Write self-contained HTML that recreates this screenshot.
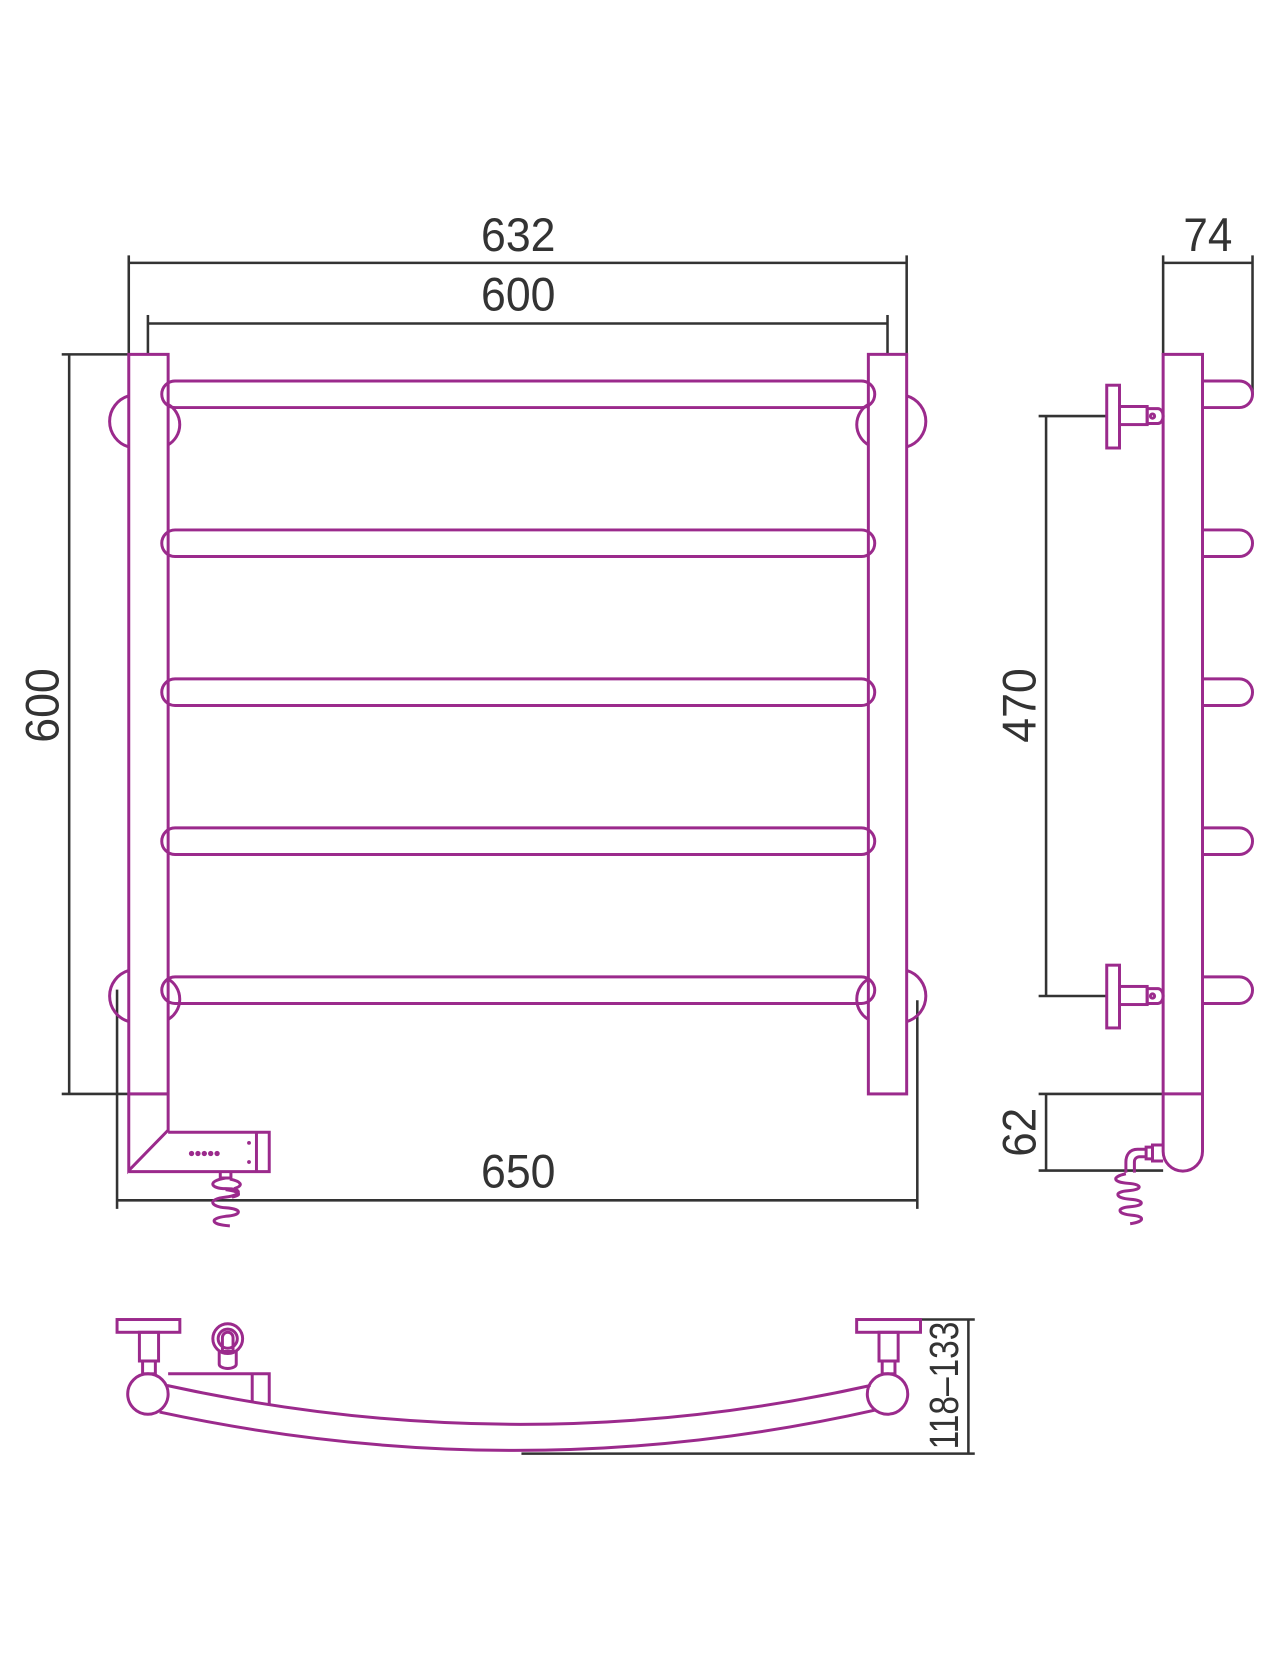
<!DOCTYPE html>
<html><head><meta charset="utf-8"><style>html,body{margin:0;padding:0;background:#fff}svg{display:block}</style></head>
<body>
<svg width="1277" height="1671" viewBox="0 0 1200 1570.3" preserveAspectRatio="none" xmlns="http://www.w3.org/2000/svg">
<g fill="none" stroke="#333" stroke-width="2.4">
<line x1="121" y1="240" x2="121" y2="333"/><line x1="852" y1="240" x2="852" y2="333"/><line x1="121" y1="247" x2="852" y2="247"/>
<line x1="139" y1="296" x2="139" y2="333"/><line x1="834" y1="296" x2="834" y2="333"/><line x1="139" y1="304" x2="834" y2="304"/>
<line x1="58" y1="333" x2="121" y2="333"/><line x1="58" y1="1028" x2="158" y2="1028"/><line x1="65" y1="333" x2="65" y2="1028"/>
<line x1="110" y1="930" x2="110" y2="1136"/><line x1="862" y1="940" x2="862" y2="1136"/><line x1="110" y1="1128" x2="862" y2="1128"/>
<line x1="1093" y1="240" x2="1093" y2="333"/><line x1="1177" y1="240" x2="1177" y2="370"/><line x1="1093" y1="247" x2="1177" y2="247"/>
<line x1="976" y1="391" x2="1040" y2="391"/><line x1="976" y1="936" x2="1040" y2="936"/><line x1="983" y1="391" x2="983" y2="936"/>
<line x1="976" y1="1028" x2="1093" y2="1028"/><line x1="976" y1="1100" x2="1093" y2="1100"/><line x1="983" y1="1028" x2="983" y2="1100"/>
<line x1="865" y1="1240" x2="916" y2="1240"/><line x1="490" y1="1366" x2="916" y2="1366"/><line x1="910" y1="1240" x2="910" y2="1366"/>
</g>
<g fill="#333" font-family="Liberation Sans, DejaVu Sans, sans-serif" font-size="44" text-anchor="middle">
<text x="487" y="236" textLength="70" lengthAdjust="spacingAndGlyphs">632</text>
<text x="487" y="292" textLength="70" lengthAdjust="spacingAndGlyphs">600</text>
<text x="487" y="1116" textLength="70" lengthAdjust="spacingAndGlyphs">650</text>
<text x="1135" y="236" textLength="46" lengthAdjust="spacingAndGlyphs">74</text>
<text transform="translate(55,663) rotate(-90)" textLength="70" lengthAdjust="spacingAndGlyphs">600</text>
<text transform="translate(973,663) rotate(-90)" textLength="70" lengthAdjust="spacingAndGlyphs">470</text>
<text transform="translate(973,1064) rotate(-90)" textLength="46" lengthAdjust="spacingAndGlyphs">62</text>
<text transform="translate(900,1302) rotate(-90)" font-size="38" textLength="120" lengthAdjust="spacingAndGlyphs">118–133</text>
</g>
<g fill="none" stroke="#9b2a8c" stroke-width="2.8">
<path d="M121 333 H158 V1062 L121 1100 Z"/>
<line x1="121" y1="1028" x2="158" y2="1028"/>
<rect x="816" y="333" width="36" height="695"/>
<path d="M121 372 A25 25 0 0 0 121 420"/><path d="M158 380 A22 22 0 0 1 158 418"/>
<path d="M121 912 A25 25 0 0 0 121 960"/><path d="M158 920 A22 22 0 0 1 158 958"/>
<path d="M816 380 A22 22 0 0 0 816 418"/><path d="M852 372 A25 25 0 0 1 852 420"/>
<path d="M816 920 A22 22 0 0 0 816 958"/><path d="M852 912 A25 25 0 0 1 852 960"/>
<rect x="152" y="358" width="670" height="25" rx="12.5"/>
<rect x="152" y="498" width="670" height="25" rx="12.5"/>
<rect x="152" y="638" width="670" height="25" rx="12.5"/>
<rect x="152" y="778" width="670" height="25" rx="12.5"/>
<rect x="152" y="918" width="670" height="25" rx="12.5"/>
<path d="M158 1064 H253 V1101 H121"/><line x1="241" y1="1064" x2="241" y2="1101"/>
<path d="M207 1101 v6 h10 v-6"/>
<path d="M212 1107 c-18 3 -14 10 0 10 c16 0 16 6 0 8 c-18 2 -14 9 0 10 c16 1 16 7 0 8 c-16 2 -14 8 4 9 M216 1108 c10 2 14 6 4 9 M212 1118 c14 2 16 5 6 7"/>
<path d="M1093 333 H1130 V1082 A18.5 18.5 0 0 1 1093 1082 Z"/>
<line x1="1093" y1="1028" x2="1130" y2="1028"/>
<path d="M1130 358 H1164.5 A12.5 12.5 0 0 1 1164.5 383 H1130"/>
<path d="M1130 498 H1164.5 A12.5 12.5 0 0 1 1164.5 523 H1130"/>
<path d="M1130 638 H1164.5 A12.5 12.5 0 0 1 1164.5 663 H1130"/>
<path d="M1130 778 H1164.5 A12.5 12.5 0 0 1 1164.5 803 H1130"/>
<path d="M1130 918 H1164.5 A12.5 12.5 0 0 1 1164.5 943 H1130"/>
<g id="br"><rect x="1040" y="362" width="12" height="59"/><rect x="1052" y="382" width="26" height="17"/><path d="M1078 384 h10 a5 7 0 0 1 0 14 h-10 z"/><circle cx="1083" cy="391" r="2"/></g>
<use href="#br" transform="translate(0,545)"/>
<path d="M1093 1076 h-10 v15 h10 M1083 1078 h-6 v11 h6 M1077 1080 h-8 c-8 0 -11 6 -11 12 v10 M1077 1087 h-6 c-3 0 -5 2 -5 5 v10"/>
<path d="M1058 1103 c-14 3 -12 8 2 9 c14 1 14 6 0 7 c-14 1 -12 7 2 8 c14 1 14 6 0 7 c-14 1 -12 7 2 8 c12 1 12 6 -2 8"/>
<rect x="110" y="1240" width="59" height="12"/><rect x="131" y="1252" width="18" height="27"/><rect x="134" y="1279" width="12" height="12"/>
<rect x="805" y="1240" width="60" height="12"/><rect x="826" y="1252" width="18" height="27"/><rect x="829" y="1279" width="12" height="12"/>
<circle cx="139" cy="1310" r="19"/><circle cx="834" cy="1310" r="19"/>
<path d="M157 1302 Q490 1375 818 1302"/>
<path d="M150 1327 Q490 1400 823 1325"/>
<path d="M158 1291 H253 V1321 M237 1291 V1318"/>
<circle cx="214" cy="1258" r="14"/><circle cx="214" cy="1258" r="9"/>
<path d="M209 1270 v-13 a5 5 0 0 1 10 0 v13"/>
<path d="M206 1270 h16 v12 a8 4 0 0 1 -16 0 z"/>
</g>
<g fill="#9b2a8c">
<circle cx="180" cy="1084" r="2.5"/><circle cx="186" cy="1084" r="2.5"/><circle cx="192" cy="1084" r="2.5"/><circle cx="198" cy="1084" r="2.5"/><circle cx="204" cy="1084" r="2.5"/>
<circle cx="234" cy="1074" r="1.8"/><circle cx="234" cy="1092" r="1.8"/>
</g>
</svg>
</body></html>
